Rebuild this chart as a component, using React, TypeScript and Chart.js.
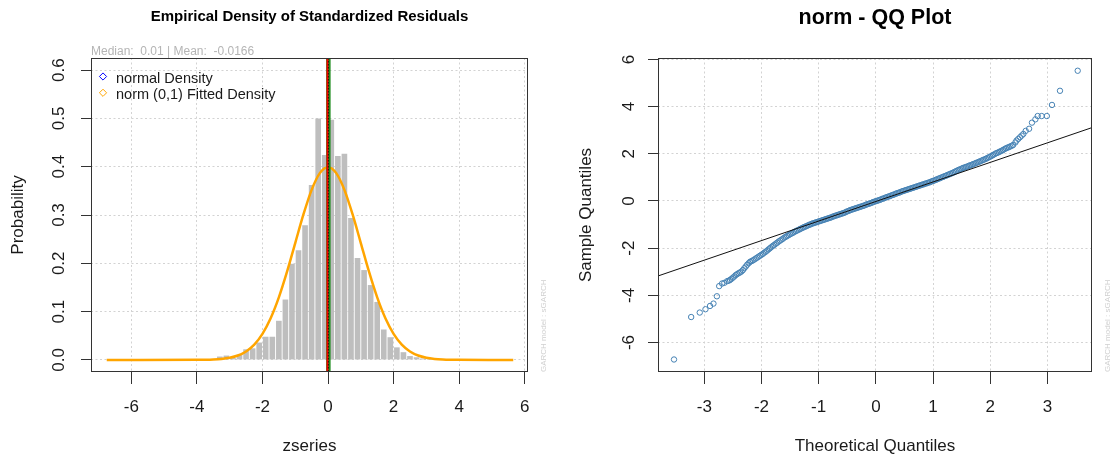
import React, { useEffect, useRef } from 'react';
import { Chart, registerables } from 'chart.js';

Chart.register(...registerables);

const FONT = "'Liberation Sans', Arial, Helvetica, sans-serif";
const INK = '#1a1a1a';
const GRID = '#d3d3d3';
const FRAME = '#333333';
const WATERMARK = 'GARCH model : sGARCH';

// ---- Left panel: empirical density of the standardized residuals (bin width 0.2) ----
const BIN_CENTERS = [
  -3.3, -3.1, -2.9, -2.7, -2.5, -2.3, -2.1, -1.9, -1.7, -1.5, -1.3, -1.1, -0.9, -0.7, -0.5, -0.3, -0.1,
  0.1, 0.3, 0.5, 0.7, 0.9, 1.1, 1.3, 1.5, 1.7, 1.9, 2.1, 2.3, 2.5, 2.7, 2.9, 3.1,
];
const BIN_DENSITY = [
  0.007, 0.009, 0.004, 0.011, 0.022, 0.024, 0.036, 0.048, 0.048, 0.081, 0.125, 0.199, 0.227, 0.279, 0.362, 0.5, 0.424,
  0.497, 0.422, 0.427, 0.294, 0.211, 0.186, 0.155, 0.12, 0.063, 0.047, 0.026, 0.016, 0.008, 0.0055, 0.003, 0.002,
];

// fitted norm(0,1) density, sampled over the residual range
const FIT_X = [
  -6.75, -4, -3.75, -3.5, -3.25, -3, -2.75, -2.5, -2.25, -2, -1.75, -1.5, -1.25, -1, -0.75, -0.5, -0.25, 0,
  0.25, 0.5, 0.75, 1, 1.25, 1.5, 1.75, 2, 2.25, 2.5, 2.75, 3, 3.25, 3.5, 3.75, 4, 5.65,
];
const FIT_Y = [
  0, 0.00013, 0.00035, 0.00087, 0.00203, 0.00443, 0.00909, 0.01753, 0.03174, 0.05399, 0.08628, 0.12952, 0.18265,
  0.24197, 0.30114, 0.35207, 0.38667, 0.39894, 0.38667, 0.35207, 0.30114, 0.24197, 0.18265, 0.12952, 0.08628,
  0.05399, 0.03174, 0.01753, 0.00909, 0.00443, 0.00203, 0.00087, 0.00035, 0.00013, 0,
];

const MEDIAN = 0.01;
const MEAN = -0.0166;

const HIST_X_TICKS = [-6, -4, -2, 0, 2, 4, 6];
const HIST_X_LABELS = ['-6', '-4', '-2', '0', '2', '4', '6'];
const HIST_Y_TICKS = [0, 0.1, 0.2, 0.3, 0.4, 0.5, 0.6];
const HIST_Y_LABELS = ['0.0', '0.1', '0.2', '0.3', '0.4', '0.5', '0.6'];

const LEGEND_ITEMS = ['normal Density', 'norm (0,1) Fitted Density'];
const LEGEND_COLORS = ['#0000FF', '#FFA500'];

// ---- Right panel: normal QQ plot ----
const QQ_THEORETICAL = [
  -3.53, -3.23, -3.08, -2.98, -2.9, -2.84, -2.78, -2.74, -2.69, -2.65,
  -2.6, -2.55, -2.5, -2.45, -2.4, -2.35, -2.3, -2.25, -2.2, -2.15,
  -2.1, -2.05, -2.0, -1.95, -1.9, -1.85, -1.8, -1.75, -1.7, -1.65,
  -1.6, -1.55, -1.5, -1.45, -1.4, -1.35, -1.3, -1.25, -1.2, -1.15,
  -1.1, -1.05, -1.0, -0.95, -0.9, -0.85, -0.8, -0.75, -0.7, -0.65,
  -0.6, -0.55, -0.5, -0.45, -0.4, -0.35, -0.3, -0.25, -0.2, -0.15,
  -0.1, -0.05, 0.0, 0.05, 0.1, 0.15, 0.2, 0.25, 0.3, 0.35,
  0.4, 0.45, 0.5, 0.55, 0.6, 0.65, 0.7, 0.75, 0.8, 0.85,
  0.9, 0.95, 1.0, 1.05, 1.1, 1.15, 1.2, 1.25, 1.3, 1.35,
  1.4, 1.45, 1.5, 1.55, 1.6, 1.65, 1.7, 1.75, 1.8, 1.85,
  1.9, 1.95, 2.0, 2.05, 2.1, 2.15, 2.2, 2.25, 2.3, 2.35,
  2.4, 2.44, 2.46, 2.49, 2.52, 2.55, 2.58, 2.62, 2.68, 2.73,
  2.79, 2.83, 2.9, 2.99, 3.08, 3.22, 3.53,
  -2.575, -2.525, -2.475, -2.425, -2.375, -2.325, -2.275, -2.225, -2.175, -2.125,
  -2.075, -2.025, -1.975, -1.925, -1.875, -1.825, -1.775, -1.725, -1.675, -1.625,
  -1.575, -1.525, -1.475, -1.425, -1.375, -1.325, -1.275, -1.225, -1.175, -1.125,
  -1.075, -1.025, -0.975, -0.925, -0.875, -0.825, -0.775, -0.725, -0.675, -0.625,
  -0.575, -0.525, -0.475, -0.425, -0.375, -0.325, -0.275, -0.225, -0.175, -0.125,
  -0.075, -0.025, 0.025, 0.075, 0.125, 0.175, 0.225, 0.275, 0.325, 0.375,
  0.425, 0.475, 0.525, 0.575, 0.625, 0.675, 0.725, 0.775, 0.825, 0.875,
  0.925, 0.975, 1.025, 1.075, 1.125, 1.175, 1.225, 1.275, 1.325, 1.375,
  1.425, 1.475, 1.525, 1.575, 1.625, 1.675, 1.725, 1.775, 1.825, 1.875,
  1.925, 1.975, 2.025, 2.075, 2.125, 2.175, 2.225, 2.275, 2.325, 2.375,
];
const QQ_SAMPLE = [
  -6.72, -4.92, -4.73, -4.59, -4.45, -4.35, -4.04, -3.61, -3.5, -3.47,
  -3.4, -3.35, -3.25, -3.14, -3.06, -2.99, -2.85, -2.7, -2.58, -2.52,
  -2.44, -2.36, -2.28, -2.19, -2.1, -2.0, -1.9, -1.81, -1.72, -1.64,
  -1.55, -1.48, -1.41, -1.35, -1.28, -1.22, -1.16, -1.1, -1.05, -1.0,
  -0.95, -0.91, -0.87, -0.83, -0.79, -0.75, -0.71, -0.66, -0.62, -0.58,
  -0.54, -0.5, -0.44, -0.39, -0.35, -0.31, -0.27, -0.23, -0.19, -0.14,
  -0.1, -0.05, -0.01, 0.03, 0.08, 0.12, 0.17, 0.21, 0.26, 0.31,
  0.35, 0.4, 0.44, 0.48, 0.52, 0.56, 0.6, 0.64, 0.68, 0.72,
  0.76, 0.8, 0.85, 0.9, 0.95, 1.0, 1.05, 1.1, 1.15, 1.2,
  1.26, 1.32, 1.37, 1.42, 1.46, 1.51, 1.56, 1.61, 1.66, 1.71,
  1.76, 1.82, 1.88, 1.95, 2.02, 2.07, 2.13, 2.2, 2.26, 2.31,
  2.37, 2.48, 2.56, 2.63, 2.7, 2.77, 2.84, 2.97, 3.06, 3.32,
  3.46, 3.6, 3.6, 3.6, 4.07, 4.67, 5.52,
  -3.38, -3.3, -3.2, -3.1, -3.03, -2.93, -2.78, -2.64, -2.55, -2.48,
  -2.4, -2.32, -2.24, -2.15, -2.05, -1.95, -1.86, -1.77, -1.68, -1.6,
  -1.52, -1.45, -1.38, -1.31, -1.25, -1.19, -1.13, -1.08, -1.02, -0.97,
  -0.93, -0.89, -0.85, -0.81, -0.77, -0.73, -0.69, -0.64, -0.6, -0.56,
  -0.52, -0.47, -0.42, -0.37, -0.33, -0.29, -0.25, -0.21, -0.16, -0.12,
  -0.08, -0.03, 0.01, 0.05, 0.1, 0.15, 0.19, 0.24, 0.28, 0.33,
  0.37, 0.42, 0.46, 0.5, 0.54, 0.58, 0.62, 0.66, 0.7, 0.74,
  0.78, 0.83, 0.87, 0.92, 0.97, 1.02, 1.07, 1.12, 1.17, 1.23,
  1.29, 1.34, 1.4, 1.44, 1.49, 1.53, 1.58, 1.63, 1.68, 1.74,
  1.79, 1.85, 1.91, 1.98, 2.04, 2.1, 2.16, 2.23, 2.28, 2.34,
];
// reference line through the quartiles, given by its two end points
const QQ_LINE_X = [-3.81, 3.78];
const QQ_LINE_Y = [-3.18, 3.11];

const QQ_X_TICKS = [-3, -2, -1, 0, 1, 2, 3];
const QQ_X_LABELS = ['-3', '-2', '-1', '0', '1', '2', '3'];
const QQ_Y_TICKS = [-6, -4, -2, 0, 2, 4, 6];
const QQ_Y_LABELS = ['-6', '-4', '-2', '0', '2', '4', '6'];

const axisFont = { family: FONT, size: 17 };

function xAxis(min: number, max: number, ticks: number[], labels: string[], title: string) {
  return {
    type: 'linear',
    min,
    max,
    offset: false,
    afterBuildTicks: (s: any) => {
      s.ticks = ticks.map((v) => ({ value: v }));
    },
    afterFit: (s: any) => {
      s.height = 87;
    },
    ticks: {
      autoSkip: false,
      maxRotation: 0,
      minRotation: 0,
      padding: 13,
      color: INK,
      font: axisFont,
      callback: (_v: any, i: number) => labels[i],
    },
    grid: {
      offset: false,
      color: GRID,
      lineWidth: 1,
      drawTicks: true,
      tickLength: 12,
      tickColor: FRAME,
      tickWidth: 1,
      tickBorderDash: [],
    },
    border: { display: false, dash: [2, 2.5] },
    title: { display: true, text: title, color: INK, font: axisFont, padding: { top: 0, bottom: 2 } },
  };
}

function yAxis(
  min: number,
  max: number,
  ticks: number[],
  labels: string[],
  title: string,
  width: number,
  tickPad: number,
  titlePad: number,
) {
  return {
    type: 'linear',
    min,
    max,
    afterBuildTicks: (s: any) => {
      s.ticks = ticks.map((v) => ({ value: v }));
    },
    afterFit: (s: any) => {
      s.width = width;
    },
    ticks: {
      autoSkip: false,
      minRotation: 90,
      maxRotation: 90,
      crossAlign: 'center',
      padding: tickPad,
      color: INK,
      font: axisFont,
      callback: (_v: any, i: number) => labels[i],
    },
    grid: {
      color: GRID,
      lineWidth: 1,
      drawTicks: true,
      tickLength: 10,
      tickColor: FRAME,
      tickWidth: 1,
      tickBorderDash: [],
    },
    border: { display: false, dash: [2, 2.5] },
    title: { display: true, text: title, color: INK, font: axisFont, padding: { top: titlePad, bottom: 0 } },
  };
}

function drawFrame(chart: any) {
  const { ctx, chartArea: a } = chart;
  ctx.save();
  ctx.strokeStyle = FRAME;
  ctx.lineWidth = 1;
  ctx.setLineDash([]);
  ctx.strokeRect(Math.round(a.left) + 0.5, Math.round(a.top) + 0.5, Math.round(a.right - a.left) - 1, Math.round(a.bottom - a.top) - 1);
  ctx.restore();
}

function drawMainTitle(chart: any, text: string, size: number, baseline: number) {
  const { ctx, chartArea: a } = chart;
  ctx.save();
  ctx.font = `bold ${size}px ${FONT}`;
  ctx.fillStyle = '#000';
  ctx.textAlign = 'center';
  ctx.textBaseline = 'alphabetic';
  ctx.fillText(text, (a.left + a.right) / 2, baseline);
  ctx.restore();
}

function drawWatermark(chart: any) {
  const { ctx, chartArea: a } = chart;
  ctx.save();
  ctx.translate(a.right + 16, a.bottom);
  ctx.rotate(-Math.PI / 2);
  ctx.font = `8px ${FONT}`;
  ctx.fillStyle = '#d0d0d0';
  ctx.textAlign = 'left';
  ctx.textBaseline = 'middle';
  ctx.fillText(WATERMARK, 0, 0);
  ctx.restore();
}

const histDecor = {
  id: 'histDecor',
  afterDatasetsDraw(chart: any) {
    const { ctx, chartArea: a, scales } = chart;
    const x = scales.x;
    const vline = (v: number, color: string, width: number, dash: number[]) => {
      const px = x.getPixelForValue(v);
      ctx.beginPath();
      ctx.setLineDash(dash);
      ctx.strokeStyle = color;
      ctx.lineWidth = width;
      ctx.moveTo(px, a.top);
      ctx.lineTo(px, a.bottom);
      ctx.stroke();
    };
    ctx.save();
    // median (dark green, wide), mean (red) on top, dotted centre mark
    vline(MEDIAN, '#1e8c1e', 4.5, []);
    vline(MEAN, '#FF0000', 2, []);
    vline(MEDIAN, '#000000', 0.8, [1.5, 1.5]);
    ctx.restore();
  },
  afterDraw(chart: any) {
    const { ctx, chartArea: a } = chart;
    drawFrame(chart);
    drawMainTitle(chart, 'Empirical Density of Standardized Residuals', 15, 21);

    ctx.save();
    ctx.font = `12px ${FONT}`;
    ctx.fillStyle = '#b5b5b5';
    ctx.textAlign = 'left';
    ctx.textBaseline = 'alphabetic';
    ctx.fillText(`Median:  ${MEDIAN} | Mean:  ${MEAN}`, a.left, 55);

    // legend (top left, no box)
    ctx.font = `14.5px ${FONT}`;
    LEGEND_ITEMS.forEach((label, i) => {
      const cy = 76.5 + i * 16.3;
      const cx = a.left + 12;
      const r = 3.6;
      ctx.beginPath();
      ctx.moveTo(cx, cy - r);
      ctx.lineTo(cx + r, cy);
      ctx.lineTo(cx, cy + r);
      ctx.lineTo(cx - r, cy);
      ctx.closePath();
      ctx.strokeStyle = LEGEND_COLORS[i];
      ctx.lineWidth = 1;
      ctx.stroke();
      ctx.fillStyle = INK;
      ctx.fillText(label, a.left + 25, cy + 6.5);
    });
    ctx.restore();

    drawWatermark(chart);
  },
};

const qqDecor = {
  id: 'qqDecor',
  afterDraw(chart: any) {
    drawFrame(chart);
    drawMainTitle(chart, 'norm - QQ Plot', 21.5, 24);
    drawWatermark(chart);
  },
};

export default function App() {
  const leftRef = useRef<HTMLCanvasElement>(null);
  const rightRef = useRef<HTMLCanvasElement>(null);

  useEffect(() => {
    const hist = new Chart(leftRef.current as HTMLCanvasElement, {
      type: 'bar',
      data: {
        datasets: [
          {
            type: 'line',
            label: LEGEND_ITEMS[1],
            data: FIT_X.map((x, i) => ({ x, y: FIT_Y[i] })),
            borderColor: '#FFA500',
            borderWidth: 2.5,
            pointRadius: 0,
            cubicInterpolationMode: 'monotone',
            fill: false,
          },
          {
            type: 'bar',
            label: 'zseries',
            data: BIN_CENTERS.map((x, i) => ({ x, y: BIN_DENSITY[i] })),
            backgroundColor: '#BEBEBE',
            borderWidth: 0,
            barPercentage: 0.86,
            categoryPercentage: 1,
          },
        ],
      } as any,
      options: {
        responsive: false,
        maintainAspectRatio: false,
        animation: false,
        devicePixelRatio: 1,
        layout: { padding: { left: 0, right: 29, top: 58, bottom: 0 } },
        plugins: { legend: { display: false }, tooltip: { enabled: false }, title: { display: false } },
        scales: {
          x: xAxis(-7.23, 6.1, HIST_X_TICKS, HIST_X_LABELS, 'zseries'),
          y: yAxis(-0.025, 0.625, HIST_Y_TICKS, HIST_Y_LABELS, 'Probability', 91, 10, 8),
        },
      } as any,
      plugins: [histDecor],
    });

    const qq = new Chart(rightRef.current as HTMLCanvasElement, {
      type: 'scatter',
      data: {
        datasets: [
          {
            type: 'line',
            label: 'qqline',
            data: QQ_LINE_X.map((x, i) => ({ x, y: QQ_LINE_Y[i] })),
            borderColor: '#111111',
            borderWidth: 1,
            pointRadius: 0,
            fill: false,
          },
          {
            type: 'scatter',
            label: 'Sample Quantiles',
            data: QQ_THEORETICAL.map((x, i) => ({ x, y: QQ_SAMPLE[i] })),
            pointStyle: 'circle',
            pointRadius: 2.7,
            borderWidth: 1,
            borderColor: '#4682B4',
            backgroundColor: 'rgba(0,0,0,0)',
          },
        ],
      } as any,
      options: {
        responsive: false,
        maintainAspectRatio: false,
        animation: false,
        devicePixelRatio: 1,
        layout: { padding: { left: 0, right: 22, top: 58, bottom: 0 } },
        plugins: { legend: { display: false }, tooltip: { enabled: false }, title: { display: false } },
        scales: {
          x: xAxis(-3.81, 3.78, QQ_X_TICKS, QQ_X_LABELS, 'Theoretical Quantiles'),
          y: yAxis(-7.25, 6.06, QQ_Y_TICKS, QQ_Y_LABELS, 'Sample Quantiles', 101, 11, 19),
        },
      } as any,
      plugins: [qqDecor],
    });

    return () => {
      hist.destroy();
      qq.destroy();
    };
  }, []);

  return (
    <div style={{ position: 'fixed', left: 0, top: 0, width: 1114, height: 459, background: '#ffffff' }}>
      <canvas
        ref={leftRef}
        width={557}
        height={459}
        style={{ position: 'absolute', left: 0, top: 0, width: 557, height: 459 }}
      />
      <canvas
        ref={rightRef}
        width={557}
        height={459}
        style={{ position: 'absolute', left: 557, top: 0, width: 557, height: 459 }}
      />
    </div>
  );
}
